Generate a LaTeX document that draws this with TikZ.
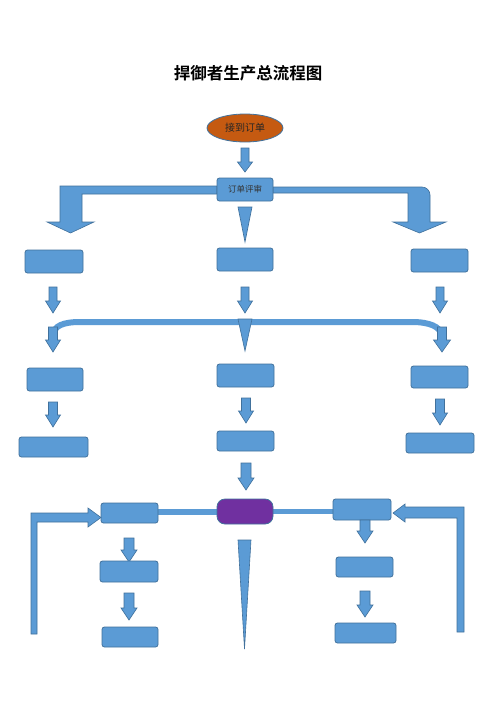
\documentclass[tikz,border=0pt]{standalone}
\usepackage{fontspec}
\newfontfamily\cjk{Noto Sans CJK SC}
\newfontfamily\cjkb{Noto Sans CJK SC Bold}
\usetikzlibrary{shapes.geometric,backgrounds}
\definecolor{bfill}{HTML}{5B9BD5}
\definecolor{bline}{HTML}{41719C}
\definecolor{purp}{HTML}{7030A0}
\definecolor{orng}{HTML}{C55A11}
\tikzset{
  box/.style={draw=bline, fill=bfill, line width=0.8pt, rounded corners=2.5pt, inner sep=0pt, font=\cjk\fontsize{8.5}{9}\selectfont, text=black!80},
  arrowstyle/.style={draw=bline, fill=bfill, line width=0.6pt, line join=miter},
  band/.style={draw=bfill, line width=6pt}
}
\newcommand{\dnarrow}[6]{\filldraw[arrowstyle] ({#1-#4},#2) -- ({#1+#4},#2) -- ({#1+#4},{#3-#6}) -- ({#1+#5},{#3-#6}) -- (#1,#3) -- ({#1-#5},{#3-#6}) -- ({#1-#4},{#3-#6}) -- cycle;}
\begin{document}
\begin{tikzpicture}[x=1pt,y=-1pt]
\begin{scope}[on background layer]
\fill[white] (0,0) rectangle (496,702);
\end{scope}
\useasboundingbox (0,0) rectangle (496,702);
% title
\node[font=\cjkb\fontsize{16.5}{18}\selectfont] (title) at (248,73) {捍御者生产总流程图};
% start
\node[ellipse, draw=bline, fill=orng, line width=0.8pt, minimum width=76, minimum height=28, inner sep=0pt, font=\cjk\fontsize{10}{11}\selectfont, text=black!85] (start) at (245,128) {接到订单};
\dnarrow{245}{148}{172}{4}{7.5}{10}
% review + bent arrows
\filldraw[arrowstyle] (217,194) -- (217,186) -- (60,186) -- (60,222) -- (47,222) -- (70.5,233) -- (94,222) -- (82,222) -- (82,194) -- cycle;
\filldraw[arrowstyle] (273,193) -- (273,187) [rounded corners=8pt]-- (430,187) [sharp corners]-- (430,222) -- (446,222) -- (419.5,233) -- (393,222) -- (408,222) -- (408,193) -- cycle;
\node[box, minimum width=56, minimum height=23] (review) at (245,189.5) {订单评审};
\filldraw[arrowstyle] (238,207) -- (252,207) -- (245,242) -- cycle;
% row 2
\node[box, minimum width=58, minimum height=23] (r2L) at (54,261.5) {};
\node[box, minimum width=56, minimum height=23] (r2M) at (245,259.5) {};
\node[box, minimum width=57, minimum height=23] (r2R) at (439.5,260.5) {};
\dnarrow{53}{287}{313}{4}{7.5}{12}
\dnarrow{245}{287}{313}{4}{7.5}{12}
\dnarrow{440}{287}{313}{4}{7.5}{12}
% merging band
\draw[band] (54,334) .. controls (54,326) and (63,322) .. (80,322) -- (412,322) .. controls (430,322) and (440,327) .. (441,334);
\dnarrow{53}{327}{352}{4.5}{7.5}{12}
\dnarrow{442}{327}{352}{4.5}{8.5}{12}
\filldraw[arrowstyle] (238,319) -- (252,319) -- (245,351) -- cycle;
% row 3
\node[box, minimum width=56, minimum height=23] (r3L) at (55,379.5) {};
\node[box, minimum width=57, minimum height=23] (r3M) at (245.5,375.5) {};
\node[box, minimum width=57, minimum height=22] (r3R) at (439.5,377) {};
\dnarrow{53}{402}{427}{4.5}{7.5}{12}
\dnarrow{246}{398}{423}{4.5}{7.5}{12}
\dnarrow{440}{399}{425}{4.5}{7.5}{12}
% row 4
\node[box, minimum width=69, minimum height=20] (r4L) at (53.5,447) {};
\node[box, minimum width=57, minimum height=20] (r4M) at (245.5,441) {};
\node[box, minimum width=68, minimum height=20] (r4R) at (440,443) {};
\dnarrow{246}{463}{490}{5}{8}{12}
% bottom row
\node[box, minimum width=57, minimum height=20] (bL) at (129.5,513) {};
\node[box, fill=purp, rounded corners=8pt, minimum width=56, minimum height=25] (mid) at (245,511.5) {};
\node[box, minimum width=58, minimum height=21] (bR) at (362,509.5) {};
\begin{scope}[on background layer]
\draw[draw=bfill, line width=5.5pt] ([yshift=1pt]bL.east) -- ([yshift=1pt]bL.east -| mid.west);
\draw[draw=bfill, line width=5pt] (mid.east) -- (mid.east -| bR.west);
\end{scope}
% side L-arrows
\filldraw[arrowstyle] (31,634) -- (31,513) -- (88,513) -- (88,508) -- (101,517.5) -- (88,527) -- (88,522) -- (37,522) -- (37,634) -- cycle;
\filldraw[arrowstyle] (464,632) -- (464,507) -- (405,507) -- (405,504) -- (393,513) -- (405,522) -- (405,518) -- (457,518) -- (457,632) -- cycle;
% spike
\filldraw[arrowstyle] (238,540) -- (251,540) -- (244.5,649) -- cycle;
% left column
\dnarrow{129}{538}{562}{5}{8}{12}
\node[box, minimum width=58, minimum height=21] (bL2) at (129,571.5) {};
\dnarrow{129}{593}{620}{5}{8}{12}
\node[box, minimum width=56, minimum height=20] (bL3) at (130,637) {};
% right column
\dnarrow{365}{520}{543}{5}{8}{12}
\node[box, minimum width=57, minimum height=20] (bR2) at (364.5,567) {};
\dnarrow{365}{591}{617}{5}{8}{12}
\node[box, minimum width=61, minimum height=20] (bR3) at (365.5,633) {};
\end{tikzpicture}
\end{document}
